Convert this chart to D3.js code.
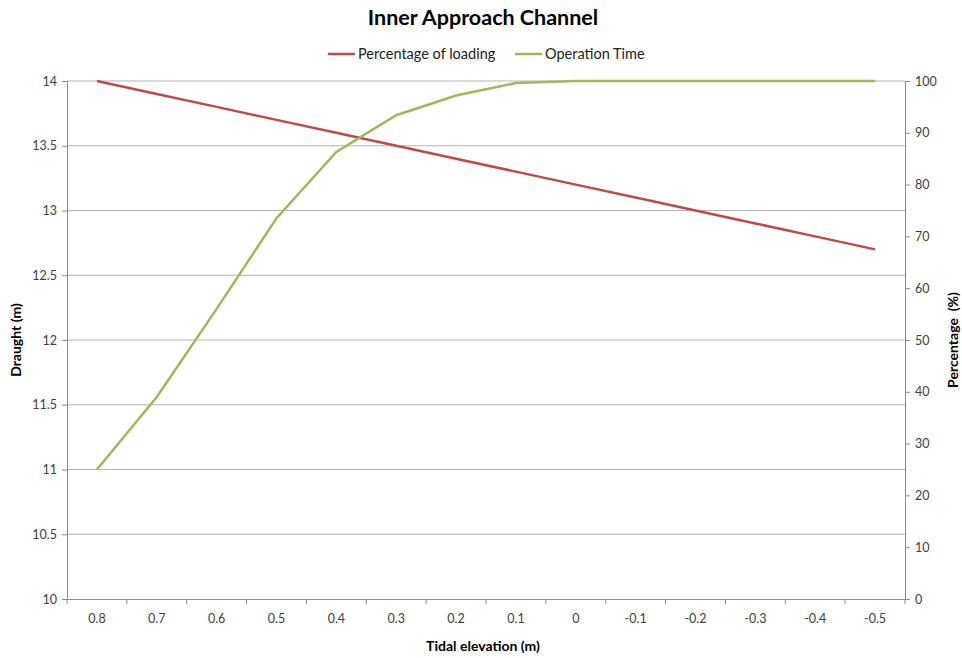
<!DOCTYPE html>
<html>
<head>
<meta charset="utf-8">
<script src="https://cdn.jsdelivr.net/npm/d3@7"></script>
<style>
  body { margin: 0; background: white; }
  text { font-family: Lato, "Open Sans", sans-serif; }
  .tick text { fill: #404040; font-size: 12.5px; }
  .axis-title { font-weight: bold; font-size: 14px; fill: #000; white-space: pre; }
</style>
</head>
<body>
<div id="chart"></div>
<script>
var tidal = ["0.8", "0.7", "0.6", "0.5", "0.4", "0.3", "0.2", "0.1", "0", "-0.1", "-0.2", "-0.3", "-0.4", "-0.5"];
var draught = [14, 13.9, 13.8, 13.7, 13.6, 13.5, 13.4, 13.3, 13.2, 13.1, 13, 12.9, 12.8, 12.7];
var operationTime = [25, 39, 56, 73.5, 86.3, 93.4, 97.2, 99.6, 100, 100, 100, 100, 100, 100];
var leftTicks = [10, 10.5, 11, 11.5, 12, 12.5, 13, 13.5, 14];
var rightTicks = [0, 10, 20, 30, 40, 50, 60, 70, 80, 90, 100];

var margin = { top: 81, right: 57, bottom: 59, left: 67 },
  width = 962 - margin.left - margin.right,
  height = 658 - margin.top - margin.bottom;

var svg = d3.select("#chart")
  .append("svg")
  .attr("width", 962)
  .attr("height", 658)
  .append("g")
  .attr("transform", "translate(" + margin.left + "," + margin.top + ")");

var xscale = d3.scaleBand()
  .domain(tidal)
  .range([0, width]);

var yscale = d3.scaleLinear().domain([10, 14]).range([height, 0]);
var yscale2 = d3.scaleLinear().domain([0, 100]).range([height, 0]);

// gridlines
svg.append("g")
  .selectAll("line")
  .data(leftTicks.slice(1))
  .enter().append("line")
  .attr("x1", 0)
  .attr("x2", width)
  .attr("y1", d => yscale(d))
  .attr("y2", d => yscale(d))
  .attr("stroke", "#b3b3b3")
  .attr("stroke-width", 1);

// left axis
var yAxis = svg.append("g")
  .call(d3.axisLeft(yscale).tickValues(leftTicks).tickSize(5).tickPadding(5).tickFormat(d3.format("")));
yAxis.select(".domain").attr("stroke", "#8c8c8c");
yAxis.selectAll(".tick line").attr("stroke", "#8c8c8c");

// right axis
var yAxis2 = svg.append("g")
  .attr("transform", "translate(" + width + ",0)")
  .call(d3.axisRight(yscale2).tickValues(rightTicks).tickSize(5).tickPadding(5));
yAxis2.select(".domain").attr("stroke", "#8c8c8c");
yAxis2.selectAll(".tick line").attr("stroke", "#8c8c8c");

// x axis: labels in the middle of bands, ticks on band edges
var xAxis = svg.append("g")
  .attr("transform", "translate(0," + height + ")")
  .call(d3.axisBottom(xscale).tickSize(0).tickPadding(15));
xAxis.select(".domain").attr("stroke", "#8c8c8c");

svg.append("g")
  .selectAll("line")
  .data(tidal)
  .enter().append("line")
  .attr("x1", d => xscale(d))
  .attr("x2", d => xscale(d))
  .attr("y1", height)
  .attr("y2", height + 5)
  .attr("stroke", "#8c8c8c");
svg.append("line")
  .attr("x1", width).attr("x2", width)
  .attr("y1", height).attr("y2", height + 5)
  .attr("stroke", "#8c8c8c");

var cx = d => xscale(d) + xscale.bandwidth() / 2;

var kreska = svg.append("path")
  .datum(tidal)
  .attr("fill", "none")
  .attr("stroke", "#be4b48")
  .attr("stroke-width", 2.5)
  .attr("d", d3.line()
    .x(function (d) { return cx(d) })
    .y(function (d, i) { return yscale(draught[i]) })
  );

var kreska2 = svg.append("path")
  .datum(tidal)
  .attr("fill", "none")
  .attr("stroke", "#9bbb59")
  .attr("stroke-width", 2.5)
  .attr("d", d3.line()
    .x(function (d) { return cx(d) })
    .y(function (d, i) { return yscale2(operationTime[i]) })
  );

var root = d3.select("#chart svg");

// title
root.append("text")
  .attr("x", 483)
  .attr("y", 25)
  .attr("text-anchor", "middle")
  .style("font-size", "21.5px")
  .style("font-weight", "bold")
  .text("Inner Approach Channel");

// legend
var legend = [
  { name: "Percentage of loading", color: "#be4b48", x: 328 },
  { name: "Operation Time", color: "#9bbb59", x: 515 }
];
legend.forEach(function (l) {
  root.append("line")
    .attr("x1", l.x).attr("x2", l.x + 27)
    .attr("y1", 54).attr("y2", 54)
    .attr("stroke", l.color)
    .attr("stroke-width", 2.5);
  root.append("text")
    .attr("x", l.x + 30)
    .attr("y", 59)
    .style("font-size", "14.5px")
    .attr("fill", "#222")
    .text(l.name);
});

// axis titles
root.append("text")
  .attr("class", "axis-title")
  .attr("transform", "translate(21,340)rotate(-90)")
  .attr("text-anchor", "middle")
  .text("Draught (m)");

root.append("text")
  .attr("class", "axis-title")
  .attr("transform", "translate(958,340)rotate(-90)")
  .attr("text-anchor", "middle")
  .text("Percentage  (%)");

root.append("text")
  .attr("class", "axis-title")
  .attr("x", 483)
  .attr("y", 651)
  .attr("text-anchor", "middle")
  .text("Tidal elevation (m)");
</script>
</body>
</html>
